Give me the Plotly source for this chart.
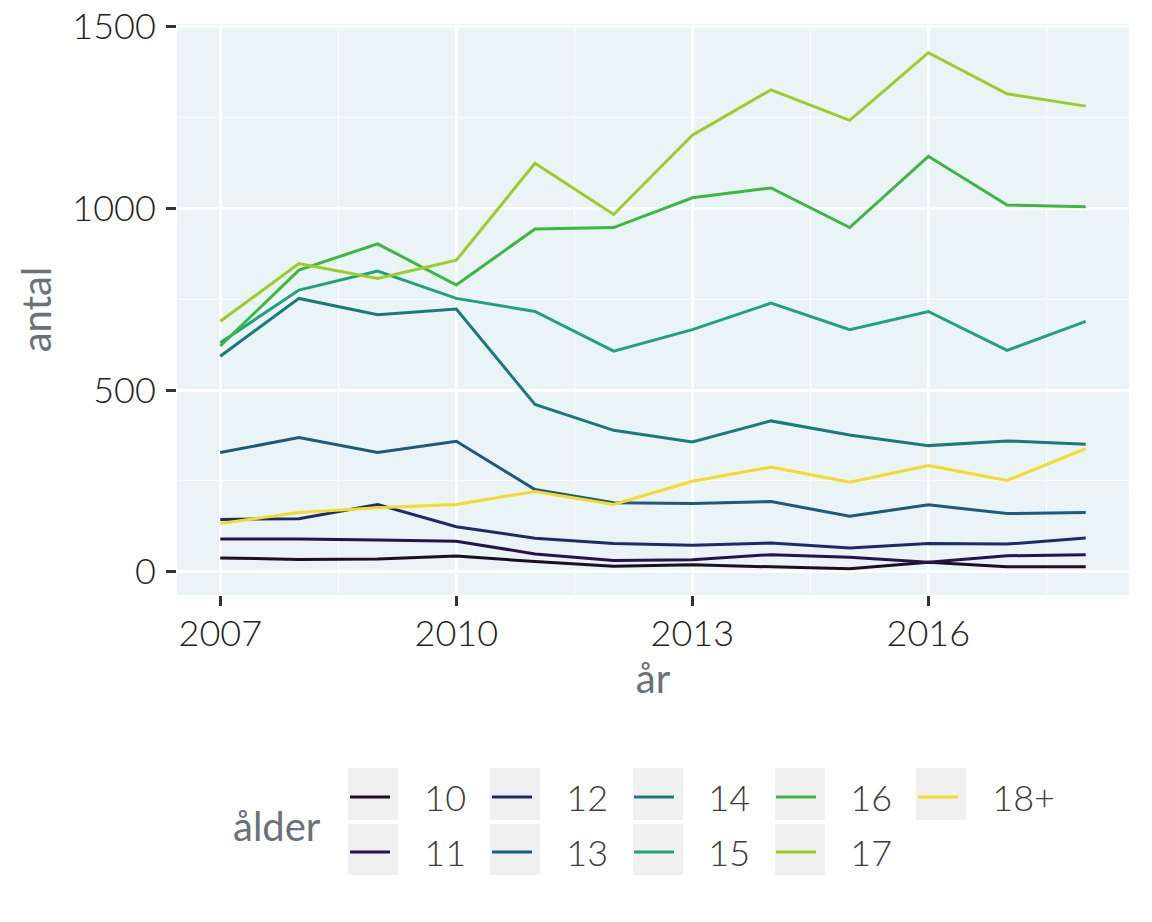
import plotly.graph_objects as go

years = [2007, 2008, 2009, 2010, 2011, 2012, 2013, 2014, 2015, 2016, 2017, 2018]

age_10 = [38, 34, 35, 43, 28, 15, 19, 13, 8, 26, 14, 14]
age_11 = [90, 90, 87, 84, 49, 31, 33, 47, 40, 26, 44, 47]
age_12 = [144, 146, 185, 124, 92, 78, 73, 79, 65, 78, 76, 93]
age_13 = [328, 369, 328, 359, 226, 190, 188, 193, 153, 184, 160, 163]
age_14 = [593, 752, 707, 723, 460, 389, 357, 415, 376, 347, 360, 351]
age_15 = [630, 775, 827, 752, 716, 607, 666, 739, 666, 716, 609, 689]
age_16 = [621, 830, 902, 789, 943, 947, 1029, 1056, 947, 1143, 1009, 1004]
age_17 = [689, 848, 807, 857, 1124, 983, 1201, 1326, 1242, 1428, 1315, 1281]
age_18 = [133, 163, 176, 185, 221, 185, 249, 288, 246, 292, 251, 339]

ages = ['10', '11', '12', '13', '14', '15', '16', '17', '18+']
series = [age_10, age_11, age_12, age_13, age_14, age_15, age_16, age_17, age_18]
colors = ['#1d0f22', '#27124f', '#1d2b6b', '#1e5a7c', '#1a7a7a', '#20a27a',
          '#3db83f', '#9acd2a', '#f3dc27']

FONT = 'Lato'
W, H = 1152, 922
OFF = 8  # the page body adds an 8px margin, so everything is placed 8px up/left
PAD = '\u00a0' * 3  # push legend labels away from the key, as in ggplot
TITLE_FONT = dict(family=FONT, size=40, color='#6b7178', weight=400)
TICK_FONT = dict(family=FONT, size=36, color='#222222', weight=300)

fig = go.Figure()
for i, (name, vals, col) in enumerate(zip(ages, series, colors)):
    # ggplot legend fills column by column: even idx -> top row, odd -> bottom row
    fig.add_trace(go.Scatter(
        x=years, y=vals, name=PAD + name, mode='lines',
        line=dict(color=col, width=3),
        legend='legend' if i % 2 == 0 else 'legend2',
    ))

# grey key backgrounds like ggplot legend keys (screen px -> paper coords)
key_left = [348, 490, 633, 775, 916]
shapes = []
for row, (top, bot) in enumerate([(768, 820), (824, 875)]):
    for c, xl in enumerate(key_left):
        if row == 1 and c == 4:
            continue
        shapes.append(dict(
            type='rect', xref='paper', yref='paper', layer='below',
            x0=(xl - 177) / 952, x1=(xl + 50 - 177) / 952,
            y0=(595 - bot) / 571, y1=(595 - top) / 571,
            fillcolor='#f0f0f0', line=dict(width=0)))

legend_common = dict(
    orientation='h', xanchor='left', yanchor='middle',
    xref='container', yref='container',
    bgcolor='rgba(0,0,0,0)',
    font=dict(family=FONT, size=36, color='#3c3c3c', weight=300),
    entrywidth=87, entrywidthmode='pixels', itemwidth=40,
    itemclick=False, itemdoubleclick=False,
)

fig.update_layout(
    width=W, height=H,
    margin=dict(l=177 - OFF, r=W - 1129 + OFF, t=24 - OFF, b=H - 595 + OFF,
                autoexpand=False),
    paper_bgcolor='white',
    plot_bgcolor='#eaf3f6',
    font=dict(family=FONT, size=36, color='#222222'),
    showlegend=True,
    legend=dict(x=337 / W, y=1 - (797 - OFF) / H, **legend_common),
    legend2=dict(x=337 / W, y=1 - (852 - OFF) / H, **legend_common),
    shapes=shapes,
    annotations=[dict(
        text='ålder', xref='paper', yref='paper',
        x=(277 - 177) / 952, y=(595 - 826) / 571,
        xanchor='center', yanchor='middle',
        showarrow=False, font=TITLE_FONT)],
)

fig.update_xaxes(
    range=[2006.45, 2018.55], tickmode='linear', tick0=2007, dtick=3,
    showgrid=True, gridcolor='white', gridwidth=2.8, zeroline=False,
    minor=dict(tickmode='linear', tick0=2007, dtick=1.5, showgrid=True,
               gridcolor='white', gridwidth=1.4),
    ticks='outside', ticklen=10, tickwidth=2.5, tickcolor='#333333',
    tickfont=TICK_FONT, ticklabeloverflow='allow', ticklabelstandoff=-3,
    title=dict(text='år', font=TITLE_FONT, standoff=6),
    showline=False, automargin=False,
)
fig.update_yaxes(
    range=[-64, 1507], tickmode='linear', tick0=0, dtick=500,
    showgrid=True, gridcolor='white', gridwidth=2.8, zeroline=False,
    minor=dict(tickmode='linear', tick0=0, dtick=250, showgrid=True,
               gridcolor='white', gridwidth=1.4),
    ticks='outside', ticklen=10, tickwidth=2.5, tickcolor='#333333',
    ticklabelstandoff=3, ticklabeloverflow='allow',
    tickfont=TICK_FONT,
    title=dict(text='antal', font=TITLE_FONT, standoff=8),
    showline=False, automargin=False,
)

fig.write_html('out.html')
